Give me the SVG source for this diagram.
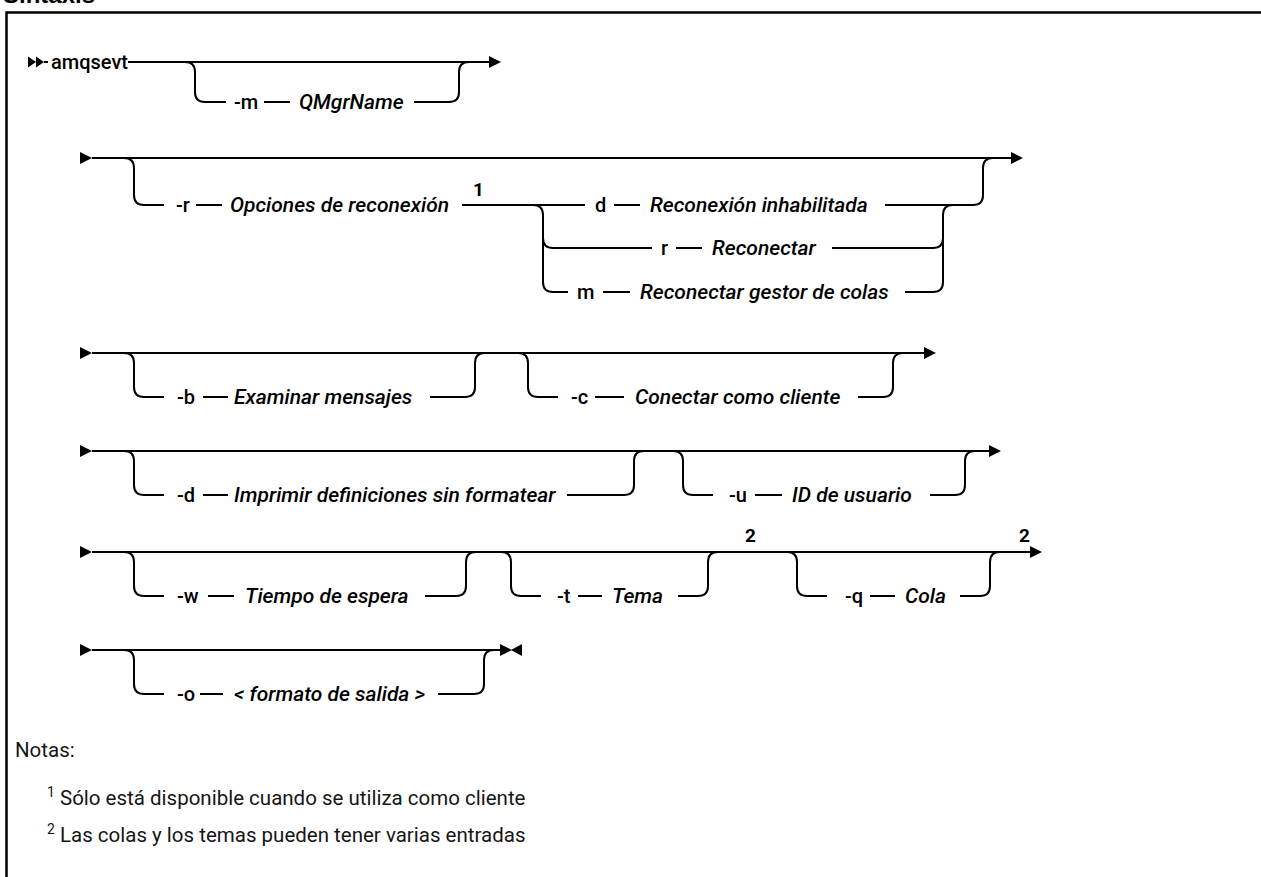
<svg xmlns="http://www.w3.org/2000/svg" width="1261" height="877" viewBox="0 0 1261 877">
<style>
.ln{fill:none;stroke:#000;stroke-width:2}
.fr{fill:none;stroke:#000;stroke-width:2.5}
.kw{font-family:Roboto,"Liberation Sans",Arial,sans-serif;font-size:20px;font-weight:500;fill:#000}
.var{font-family:Roboto,"Liberation Sans",Arial,sans-serif;font-size:21px;font-weight:500;font-style:italic;fill:#000}
.fn{font-family:Roboto,"Liberation Sans",Arial,sans-serif;font-size:19px;font-weight:bold;fill:#000}
.note{font-family:Roboto,"Liberation Sans",Arial,sans-serif;font-size:20.5px;fill:#161616}
.sup{font-family:Roboto,"Liberation Sans",Arial,sans-serif;font-size:14px;fill:#161616}
.ttl{font-family:"Liberation Sans",Arial,sans-serif;font-size:24px;font-weight:bold;fill:#000}
</style>
<defs>
<path id="tri" d="M0,-6 L12,0 L0,6 Z" fill="#000"/>
<path id="tris" d="M0,-5.5 L8,0 L0,5.5 Z" fill="#000"/>
<path id="tril" d="M0,-6 L-11,0 L0,6 Z" fill="#000"/>
</defs>
<rect width="1261" height="877" fill="#fff"/>
<text class="ttl" x="3" y="3">Sintaxis</text>
<rect class="fr" x="6.5" y="12.5" width="1300" height="900"/>

<g id="connectors">
<!-- row 1 -->
<use href="#tris" x="28" y="62"/><use href="#tris" x="36" y="62"/>
<path class="ln" d="M44,62 H48"/>
<path class="ln" d="M128,62 H489"/>
<use href="#tri" x="489" y="62"/>
<path class="ln" d="M185,62 Q195,62 195,72 V92 Q195,102 205,102 H226"/>
<path class="ln" d="M264,102 H290"/>
<path class="ln" d="M414,102 H449 Q459,102 459,92 V72 Q459,62 469,62"/>
<!-- row 2 -->
<use href="#tri" x="80" y="158"/>
<path class="ln" d="M92,158 H1011"/>
<use href="#tri" x="1011" y="158"/>
<path class="ln" d="M124,158 Q134,158 134,168 V195 Q134,205 144,205 H164"/>
<path class="ln" d="M196,205 H222"/>
<path class="ln" d="M462,205 H585"/>
<path class="ln" d="M533,205 Q543,205 543,215 V282 Q543,292 553,292 H568"/>
<path class="ln" d="M543,238 Q543,248 553,248 H652"/>
<path class="ln" d="M614,205 H640"/>
<path class="ln" d="M885,205 H973 Q983,205 983,195 V168 Q983,158 993,158"/>
<path class="ln" d="M943,282 V215 Q943,205 953,205"/>
<path class="ln" d="M676,248 H702"/>
<path class="ln" d="M832,248 H933 Q943,248 943,238"/>
<path class="ln" d="M603,292 H630"/>
<path class="ln" d="M905,292 H933 Q943,292 943,282"/>
<!-- row 3 -->
<use href="#tri" x="80" y="353"/>
<path class="ln" d="M92,353 H924"/>
<use href="#tri" x="924" y="353"/>
<path class="ln" d="M124,353 Q134,353 134,363 V387 Q134,397 144,397 H164"/>
<path class="ln" d="M203,397 H228"/>
<path class="ln" d="M430,397 H465 Q475,397 475,387 V363 Q475,353 485,353"/>
<path class="ln" d="M518,353 Q528,353 528,363 V387 Q528,397 538,397 H558"/>
<path class="ln" d="M595,397 H624"/>
<path class="ln" d="M858,397 H883 Q893,397 893,387 V363 Q893,353 903,353"/>
<!-- row 4 -->
<use href="#tri" x="80" y="451"/>
<path class="ln" d="M92,451 H989"/>
<use href="#tri" x="989" y="451"/>
<path class="ln" d="M124,451 Q134,451 134,461 V485 Q134,495 144,495 H164"/>
<path class="ln" d="M203,495 H228"/>
<path class="ln" d="M567,495 H624 Q634,495 634,485 V461 Q634,451 644,451"/>
<path class="ln" d="M673,451 Q683,451 683,461 V485 Q683,495 693,495 H713"/>
<path class="ln" d="M755,495 H782"/>
<path class="ln" d="M930,495 H955 Q965,495 965,485 V461 Q965,451 975,451"/>
<!-- row 5 -->
<use href="#tri" x="80" y="552"/>
<path class="ln" d="M92,552 H1030"/>
<use href="#tri" x="1030" y="552"/>
<path class="ln" d="M124,552 Q134,552 134,562 V586 Q134,596 144,596 H164"/>
<path class="ln" d="M208,596 H234"/>
<path class="ln" d="M425,596 H456 Q466,596 466,586 V562 Q466,552 476,552"/>
<path class="ln" d="M501,552 Q511,552 511,562 V586 Q511,596 521,596 H541"/>
<path class="ln" d="M578,596 H602"/>
<path class="ln" d="M678,596 H698 Q708,596 708,586 V562 Q708,552 718,552"/>
<path class="ln" d="M787,552 Q797,552 797,562 V586 Q797,596 807,596 H827"/>
<path class="ln" d="M870,596 H895"/>
<path class="ln" d="M960,596 H980 Q990,596 990,586 V562 Q990,552 1000,552"/>
<!-- row 6 -->
<use href="#tri" x="80" y="650"/>
<path class="ln" d="M92,650 H501"/>
<use href="#tri" x="500" y="650"/>
<use href="#tril" x="522" y="650"/>
<path class="ln" d="M124,650 Q134,650 134,660 V684 Q134,694 144,694 H164"/>
<path class="ln" d="M200,694 H223"/>
<path class="ln" d="M438,694 H474 Q484,694 484,684 V660 Q484,650 494,650"/>
</g>

<g id="n-amqsevt"><text class="kw" x="51" y="69">amqsevt</text></g>
<g id="n-m"><text class="kw" x="234" y="109">-m</text><text class="var" x="299" y="109">QMgrName</text></g>
<g id="n-r"><text class="kw" x="176" y="212">-r</text><text class="var" x="230" y="212">Opciones de reconexión</text><text class="fn" x="473" y="196">1</text></g>
<g id="n-rd"><text class="kw" x="595" y="212">d</text><text class="var" x="650" y="212">Reconexión inhabilitada</text></g>
<g id="n-rr"><text class="kw" x="661" y="255">r</text><text class="var" x="712" y="255">Reconectar</text></g>
<g id="n-rm"><text class="kw" x="577" y="299">m</text><text class="var" x="640" y="299">Reconectar gestor de colas</text></g>
<g id="n-b"><text class="kw" x="177" y="404">-b</text><text class="var" x="234" y="404">Examinar mensajes</text></g>
<g id="n-c"><text class="kw" x="571" y="404">-c</text><text class="var" x="635" y="404">Conectar como cliente</text></g>
<g id="n-d"><text class="kw" x="177" y="502">-d</text><text class="var" x="234" y="502">Imprimir definiciones sin formatear</text></g>
<g id="n-u"><text class="kw" x="729" y="502">-u</text><text class="var" x="792" y="502">ID de usuario</text></g>
<g id="n-w"><text class="kw" x="177" y="603">-w</text><text class="var" x="245" y="603">Tiempo de espera</text></g>
<g id="n-t"><text class="kw" x="557" y="603">-t</text><text class="var" x="612" y="603">Tema</text></g>
<g id="n-fn2a"><text class="fn" x="745" y="542">2</text></g>
<g id="n-q"><text class="kw" x="845" y="603">-q</text><text class="var" x="905" y="603">Cola</text></g>
<g id="n-fn2b"><text class="fn" x="1019" y="542">2</text></g>
<g id="n-o"><text class="kw" x="177" y="701">-o</text><text class="var" x="234" y="701">&lt; formato de salida &gt;</text></g>

<g id="notes">
<text class="note" x="15" y="757">Notas:</text>
<text class="sup" x="47" y="797">1</text>
<text class="note" x="60" y="805">Sólo está disponible cuando se utiliza como cliente</text>
<text class="sup" x="47" y="834">2</text>
<text class="note" x="60" y="842">Las colas y los temas pueden tener varias entradas</text>
</g>
</svg>
